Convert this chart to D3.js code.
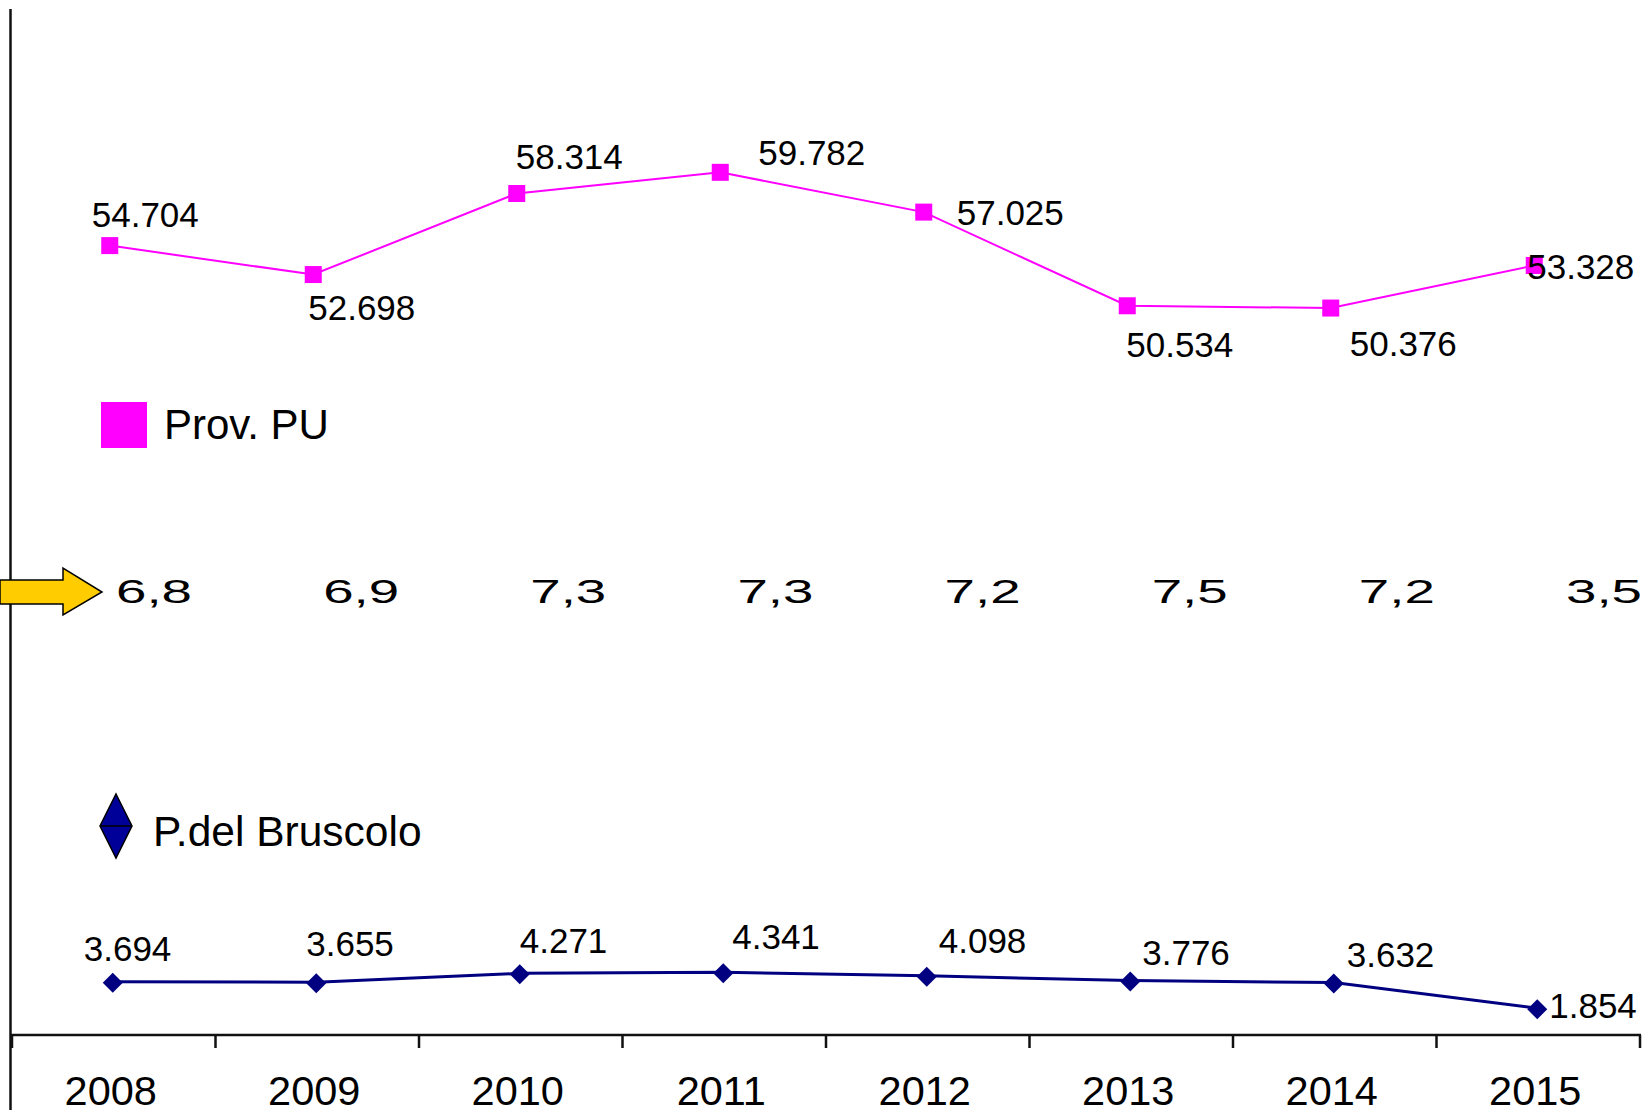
<!DOCTYPE html>
<html>
<head>
<meta charset="utf-8">
<script src="https://cdn.jsdelivr.net/npm/d3@7"></script>
<style>
  body { margin: 0; background: #fff; }
  text { font-family: "Liberation Sans", Arial, sans-serif; fill: #000; }
</style>
</head>
<body>
<script>
var anni = ["2008", "2009", "2010", "2011", "2012", "2013", "2014", "2015"];
var provPU = [54.704, 52.698, 58.314, 59.782, 57.025, 50.534, 50.376, 53.328];
var bruscolo = [3.694, 3.655, 4.271, 4.341, 4.098, 3.776, 3.632, 1.854];
var percentuali = ["6,8", "6,9", "7,3", "7,3", "7,2", "7,5", "7,2", "3,5"];

// spostamenti delle etichette rispetto al marcatore (px)
var offPU = [[-18, -19], [-5, 45], [-1, -25], [38, -7], [33, 13], [-1, 51], [19, 48], [-7, 14]];
var offBr = [[-29, -21], [-10, -26], [0, -20], [9, -23], [12, -23], [12, -16], [13, -16], [12, 10]];

var vis = {
  width: 1648,
  height: 1110,
  assexY: 1035,
  top: 9
};

var svg = d3.select("body").append("svg")
  .attr("width", vis.width)
  .attr("height", vis.height);

var x = d3.scaleBand().domain(anni).range([12, 1640]).paddingInner(0).paddingOuter(0);
var y = d3.scaleLinear().domain([0, 71.1]).range([vis.assexY, vis.top]);
var xr = d3.scalePoint().domain(anni).range([116, 1566]);

function cx(d, off) { return x(d) + x.bandwidth() / 2 + off; }

// assi
svg.append("line")
  .attr("x1", 10.5).attr("x2", 10.5)
  .attr("y1", vis.top).attr("y2", vis.height)
  .attr("stroke", "#111").attr("stroke-width", 2.5);

svg.append("line")
  .attr("x1", 10).attr("x2", 1641)
  .attr("y1", vis.assexY).attr("y2", vis.assexY)
  .attr("stroke", "#111").attr("stroke-width", 2.5);

var bordi = anni.map(function(d) { return x(d); }).concat([x.range()[1]]);
svg.selectAll(".tick").data(bordi).enter().append("line")
  .attr("class", "tick")
  .attr("x1", function(d) { return d; }).attr("x2", function(d) { return d; })
  .attr("y1", vis.assexY).attr("y2", vis.assexY + 13)
  .attr("stroke", "#111").attr("stroke-width", 2.5);

svg.selectAll(".anno").data(anni).enter().append("text")
  .attr("class", "anno")
  .attr("x", function(d) { return cx(d, -3); })
  .attr("y", 1105)
  .attr("text-anchor", "middle")
  .attr("font-size", 41.5)
  .text(function(d) { return d; });

// Prov. PU
var lineaPU = d3.line()
  .x(function(d, i) { return cx(anni[i], -4); })
  .y(function(d) { return y(d); });

svg.append("path").datum(provPU)
  .attr("d", lineaPU)
  .attr("fill", "none")
  .attr("stroke", "#ff00ff")
  .attr("stroke-width", 2);

svg.selectAll(".qPU").data(provPU).enter().append("rect")
  .attr("class", "qPU")
  .attr("x", function(d, i) { return cx(anni[i], -4) - 8.5; })
  .attr("y", function(d) { return y(d) - 8.5; })
  .attr("width", 17).attr("height", 17)
  .attr("fill", "#ff00ff");

svg.selectAll(".lPU").data(provPU).enter().append("text")
  .attr("class", "lPU")
  .attr("x", function(d, i) { return cx(anni[i], -4) + offPU[i][0]; })
  .attr("y", function(d, i) { return y(d) + offPU[i][1]; })
  .attr("font-size", 35)
  .text(function(d) { return d.toFixed(3); });

// P.del Bruscolo
var lineaBr = d3.line()
  .x(function(d, i) { return cx(anni[i], -1); })
  .y(function(d) { return y(d); });

svg.append("path").datum(bruscolo)
  .attr("d", lineaBr)
  .attr("fill", "none")
  .attr("stroke", "#000080")
  .attr("stroke-width", 3);

svg.selectAll(".dBr").data(bruscolo).enter().append("path")
  .attr("class", "dBr")
  .attr("d", "M0,-10L10,0L0,10L-10,0Z")
  .attr("transform", function(d, i) { return "translate(" + cx(anni[i], -1) + "," + (y(d) + 1) + ")"; })
  .attr("fill", "#000080");

svg.selectAll(".lBr").data(bruscolo).enter().append("text")
  .attr("class", "lBr")
  .attr("x", function(d, i) { return cx(anni[i], -1) + offBr[i][0]; })
  .attr("y", function(d, i) { return y(d) + offBr[i][1]; })
  .attr("font-size", 35)
  .text(function(d) { return d.toFixed(3); });

// legenda
svg.append("rect")
  .attr("x", 101).attr("y", 402).attr("width", 46).attr("height", 46)
  .attr("fill", "#ff00ff");
svg.append("text")
  .attr("x", 164).attr("y", 439)
  .attr("font-size", 42)
  .text("Prov. PU");

svg.append("path")
  .attr("d", "M116,794L132,826L116,858L100,826Z")
  .attr("fill", "#000099").attr("stroke", "#000").attr("stroke-width", 1.5);
svg.append("line")
  .attr("x1", 100).attr("x2", 132).attr("y1", 826).attr("y2", 826)
  .attr("stroke", "#000").attr("stroke-width", 1.5);
svg.append("text")
  .attr("x", 153).attr("y", 846)
  .attr("font-size", 42.5)
  .text("P.del Bruscolo");

// freccia e percentuali
svg.append("path")
  .attr("d", "M0,580L63,580L63,568L102,592L63,615L63,604L0,604Z")
  .attr("fill", "#ffcc00").attr("stroke", "#000").attr("stroke-width", 1.5);

svg.selectAll(".perc").data(percentuali).enter().append("text")
  .attr("class", "perc")
  .attr("x", function(d, i) { return xr(anni[i]); })
  .attr("y", 603)
  .attr("font-size", 33)
  .attr("textLength", 76)
  .attr("lengthAdjust", "spacingAndGlyphs")
  .text(function(d) { return d; });
</script>
</body>
</html>
